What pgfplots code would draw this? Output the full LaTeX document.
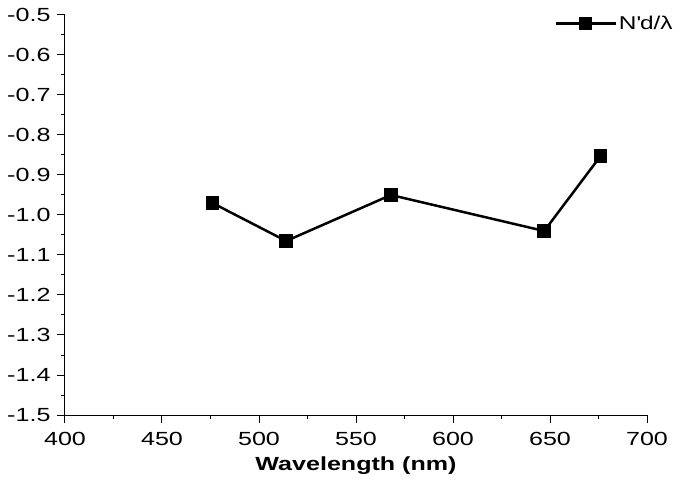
\documentclass[border=0pt]{standalone}
\usepackage{fontspec}
\setmainfont{Liberation Sans}[FakeStretch=1.32]
\usepackage{pgfplots}
\pgfplotsset{compat=1.18}
\begin{document}
\begin{tikzpicture}[x=1pt,y=1pt]
\useasboundingbox (-65,-72) rectangle (620,415);
\begin{axis}[
  at={(0,0)}, anchor=south west,
  scale only axis, width=582pt, height=400pt,
  xmin=400, xmax=700, ymin=-1.5, ymax=-0.5,
  axis lines=left, axis line style={-, line width=1pt},
  tick align=outside,
  xtick={400,450,...,700},
  ytick={-1.5,-1.4,...,-0.45},
  minor x tick num=1, minor y tick num=1,
  major tick length=8pt, minor tick length=4pt,
  every tick/.style={black, line width=1pt},
  tick label style={font=\fontsize{19}{21}\selectfont},
  xticklabel style={yshift=-6pt},
  yticklabel style={xshift=-3pt},
  /pgf/number format/.cd, fixed, fixed zerofill, precision=1, assume math mode=true, 1000 sep={},
  /pgfplots/.cd,
  xticklabel={\pgfmathprintnumber[fixed,precision=0]{\tick}},
  xlabel={\textbf{Wavelength (nm)}},
  xlabel style={font=\fontsize{19}{21}\selectfont, at={(axis description cs:0.5,0)}, anchor=center, yshift=-51pt},
  legend style={draw=none, fill=none, at={(1.053,1.0075)}, anchor=north east,
    font=\fontsize{18.5}{20}\selectfont},
  legend image code/.code={\draw[mark repeat=2,mark phase=2] plot coordinates {(0pt,0pt) (30pt,0pt) (60pt,0pt)};},
]
\addplot[black, line width=2.5pt, mark=square*, mark size=6.3pt, mark options={solid, line width=1pt}] coordinates {
  (476,-0.97) (514,-1.065) (568,-0.95) (647,-1.04) (676,-0.853)
};
\addlegendentry{N\textquotesingle d/λ}
\end{axis}
\end{tikzpicture}
\end{document}
